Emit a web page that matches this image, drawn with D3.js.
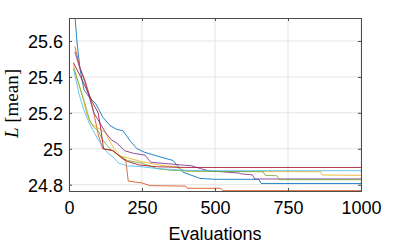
<!DOCTYPE html>
<html><head><meta charset="utf-8">
<script src="https://cdn.jsdelivr.net/npm/d3@7"></script>
<style>body{margin:0;background:#fff}svg{display:block}</style>
</head><body>
<script>
const xTicks = [0, 250, 500, 750, 1000];
const yTicks = [24.8, 25, 25.2, 25.4, 25.6];
const yTickLabels = ["24.8", "25", "25.2", "25.4", "25.6"];
const xLabel = "Evaluations";

const seriesNames = ["blue", "orange", "yellow", "purple", "green", "lightblue", "red"];
const colors = ["#0072BD", "#D95319", "#EDB120", "#7E2F8E", "#77AC30", "#4DBEEE", "#A2142F"];

const blue = [[15,25.85],[27,25.6],[38,25.44],[51,25.33],[68,25.29],[92,25.25],[116,25.175],[140,25.13],[161,25.11],[185,25.1],[209,25.045],[233,25.0],[260,24.98],[312,24.955],[356,24.935],[390,24.87],[449,24.835],[500,24.83],[650,24.83],[658,24.807],[1000,24.807]];
const orange = [[20,25.57],[38,25.45],[55,25.38],[70,25.3],[85,25.2],[100,25.08],[115,25.0],[150,24.99],[180,24.95],[195,24.93],[203,24.82],[250,24.81],[277,24.795],[400,24.792],[405,24.78],[520,24.78],[526,24.767],[1000,24.767]];
const yellow = [[15,25.47],[30,25.38],[45,25.3],[60,25.2],[75,25.14],[95,25.12],[125,25.09],[140,25.04],[155,25.0],[175,24.96],[200,24.95],[245,24.93],[290,24.915],[330,24.905],[365,24.9],[400,24.875],[862,24.872],[868,24.854],[1000,24.852]];
const purple = [[20,25.54],[35,25.46],[55,25.37],[85,25.2],[100,25.16],[125,25.09],[145,25.05],[165,25.03],[190,24.99],[220,24.975],[260,24.965],[280,24.925],[350,24.915],[420,24.905],[450,24.89],[480,24.877],[582,24.865],[590,24.86],[628,24.855],[636,24.832],[1000,24.832]];
const green = [[15,25.45],[30,25.38],[45,25.3],[55,25.25],[70,25.16],[85,25.12],[100,25.1],[115,25.05],[140,25.0],[160,24.975],[200,24.935],[250,24.92],[300,24.89],[350,24.88],[450,24.875],[665,24.872],[672,24.852],[712,24.85],[720,24.828],[1000,24.828]];
const lightblue = [[15,25.45],[35,25.3],[50,25.22],[70,25.14],[100,25.05],[130,24.98],[150,24.955],[170,24.92],[200,24.905],[250,24.9],[300,24.89],[400,24.88],[450,24.878],[1000,24.878]];
const red = [[15,25.48],[40,25.4],[60,25.33],[80,25.26],[100,25.2],[110,25.1],[118,25.0],[150,24.99],[180,24.95],[200,24.93],[240,24.91],[300,24.9],[400,24.896],[1000,24.896]];
const seriesData = [blue, orange, yellow, purple, green, lightblue, red];

const W = 399, H = 247;
const m = {left: 69, right: 38, top: 18, bottom: 56};
const svg = d3.select("body").append("svg").attr("width", W).attr("height", H);
const x = d3.scaleLinear().domain([0, 1000]).range([m.left, W - m.right]);
const y = d3.scaleLinear().domain([24.765, 25.728]).range([H - m.bottom, m.top]);

const defs = svg.append("defs");
defs.append("clipPath").attr("id", "clip").append("rect")
  .attr("x", m.left).attr("y", m.top).attr("width", W - m.left - m.right).attr("height", H - m.top - m.bottom);

// grid
const grid = svg.append("g");
grid.selectAll(".gx").data(xTicks).join("line")
  .attr("x1", d => x(d)).attr("x2", d => x(d)).attr("y1", m.top).attr("y2", H - m.bottom)
  .attr("stroke", "#e4e4e4").attr("stroke-width", 1);
grid.selectAll(".gy").data(yTicks).join("line")
  .attr("y1", d => y(d)).attr("y2", d => y(d)).attr("x1", m.left).attr("x2", W - m.right)
  .attr("stroke", "#e4e4e4").attr("stroke-width", 1);

// lines
const line = d3.line().x(d => x(d[0])).y(d => y(d[1]));
svg.append("g").attr("clip-path", "url(#clip)")
  .selectAll("path").data(seriesData).join("path")
  .attr("d", line).attr("fill", "none")
  .attr("stroke", (d, i) => colors[i]).attr("stroke-width", 1).attr("stroke-opacity", 0.85);

// axes
const font = "'Liberation Sans', Arial, Helvetica, sans-serif";
const xAxis = svg.append("g").attr("transform", `translate(0,${H - m.bottom})`)
  .call(d3.axisBottom(x).tickValues(xTicks).tickSize(-3).tickPadding(10).tickFormat(d3.format("d")));
const yAxis = svg.append("g").attr("transform", `translate(${m.left},0)`)
  .call(d3.axisLeft(y).tickValues(yTicks).tickSize(-3).tickPadding(6).tickFormat((d, i) => yTickLabels[i]));
const xTop = svg.append("g").attr("transform", `translate(0,${m.top})`)
  .call(d3.axisTop(x).tickValues(xTicks).tickSize(-3).tickFormat(""));
const yRight = svg.append("g").attr("transform", `translate(${W - m.right},0)`)
  .call(d3.axisRight(y).tickValues(yTicks).tickSize(-3).tickFormat(""));
[xAxis, yAxis, xTop, yRight].forEach(g => {
  g.select(".domain").attr("stroke", "#4d4d4d").attr("stroke-width", 1);
  g.selectAll(".tick line").attr("stroke", "#4d4d4d");
  g.selectAll("text").attr("font-family", font).attr("font-size", 18).attr("fill", "#000");
});
yAxis.selectAll("text").attr("dy", "0.36em");

svg.append("text").attr("x", (m.left + W - m.right) / 2).attr("y", 240)
  .attr("text-anchor", "middle").attr("font-family", font).attr("font-size", 18).text(xLabel);

const yl = svg.append("text").attr("transform", `translate(18,${(m.top + H - m.bottom) / 2 - 1}) rotate(-90)`)
  .attr("text-anchor", "middle").attr("font-family", "'Liberation Serif', 'Times New Roman', serif").attr("font-size", 19);
yl.append("tspan").attr("font-style", "italic").text("L");
yl.append("tspan").text(" [mean]");
</script>
</body></html>
